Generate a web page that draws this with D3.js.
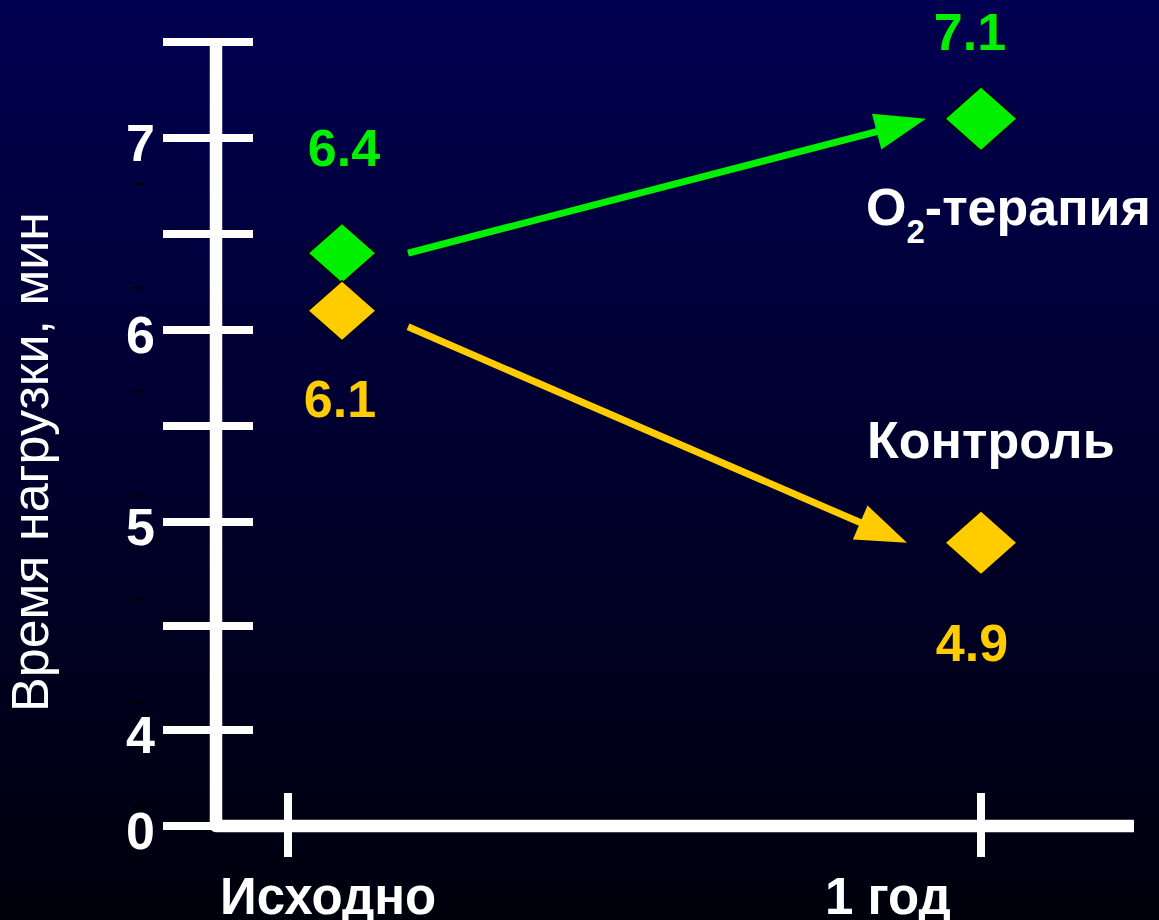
<!DOCTYPE html>
<html>
<head>
<meta charset="utf-8">
<script src="https://cdn.jsdelivr.net/npm/d3@7"></script>
<style>
  html, body { margin: 0; padding: 0; background: #000010; }
  svg { display: block; }
  text { font-family: "Liberation Sans", Arial, sans-serif; }
</style>
</head>
<body>
<script>
// ---- data ----
const periods = ["Исходно", "1 год"];
const seriesNames = ["O2-терапия", "Контроль"];
const o2Values = [6.4, 7.1];
const controlValues = [6.1, 4.9];
const yTickValues = [0, 4, 4.5, 5, 5.5, 6, 6.5, 7, 7.5];
const yTickLabels = ["0", "4", "", "5", "", "6", "", "7", ""];
const yTitle = "Время нагрузки, мин";

// ---- layout ----
const W = 1159, H = 920;
const colors = { o2: "#00f000", control: "#ffcc00", axis: "#ffffff" };

const svg = d3.select("body").append("svg")
  .attr("width", W).attr("height", H);

const defs = svg.append("defs");
const grad = defs.append("linearGradient")
  .attr("id", "bg").attr("x1", 0).attr("y1", 0).attr("x2", 0).attr("y2", 1);
grad.append("stop").attr("offset", "0%").attr("stop-color", "#000050");
grad.append("stop").attr("offset", "100%").attr("stop-color", "#00000c");
svg.append("rect").attr("width", W).attr("height", H).attr("fill", "url(#bg)");

// broken value axis: 0 sits just below the 4..7.5 segment
const y = d3.scaleLinear()
  .domain([0, 4, 5, 7.5])
  .range([826, 730, 522, 42]);
const x = d3.scalePoint().domain(periods).range([288, 981]);

const axisX = 216;
const markerShift = { "Исходно": 54, "1 год": 0 };

// faint guide dashes left of the value labels
const guide = d3.scaleLinear().domain([0, 6]).range([807, 184]);
svg.append("g").selectAll("line")
  .data(d3.range(0, 7))
  .join("line")
  .attr("x1", 132).attr("x2", 143)
  .attr("y1", d => guide(d)).attr("y2", d => guide(d))
  .attr("stroke", "#000000").attr("stroke-width", 2);

// axis frame
svg.append("path")
  .attr("d", `M${axisX},${y(7.5)} V${y(0)} H1134`)
  .attr("fill", "none")
  .attr("stroke", colors.axis)
  .attr("stroke-width", 12.5)
  .attr("stroke-linejoin", "round");

// y ticks crossing the axis
const yAxisG = svg.append("g");
yAxisG.selectAll("line")
  .data(yTickValues)
  .join("line")
  .attr("x1", 163).attr("x2", 253)
  .attr("y1", d => y(d)).attr("y2", d => y(d))
  .attr("stroke", colors.axis).attr("stroke-width", 8);
yAxisG.selectAll("text")
  .data(yTickValues.map((v, i) => ({ v, label: yTickLabels[i] })).filter(d => d.label))
  .join("text")
  .attr("x", 155)
  .attr("y", d => y(d.v) + 23)
  .attr("text-anchor", "end")
  .attr("fill", colors.axis)
  .attr("font-size", 52)
  .attr("font-weight", "bold")
  .text(d => d.label);

// x ticks
const xAxisG = svg.append("g");
xAxisG.selectAll("line")
  .data(periods)
  .join("line")
  .attr("x1", d => x(d)).attr("x2", d => x(d))
  .attr("y1", 793).attr("y2", 857)
  .attr("stroke", colors.axis).attr("stroke-width", 8);
const xLabelStart = { "Исходно": -68, "1 год": -156 };
xAxisG.selectAll("text")
  .data(periods)
  .join("text")
  .attr("x", d => x(d) + xLabelStart[d])
  .attr("y", 914)
  .attr("fill", colors.axis)
  .attr("font-size", 51)
  .attr("font-weight", "bold")
  .text(d => d);

// y title
svg.append("text")
  .attr("transform", `translate(48, ${462}) rotate(-90)`)
  .attr("text-anchor", "middle")
  .attr("fill", colors.axis)
  .attr("font-size", 52)
  .text(yTitle);

// series
const series = [
  { key: "o2", values: o2Values, color: colors.o2,
    startDy: 0, endGap: 20, labelDy: [-87, -69], labelDx: [2, -11] },
  { key: "control", values: controlValues, color: colors.control,
    startDy: 16, endGap: 39, labelDy: [106, 118], labelDx: [-2, -9] }
];

const diamond = (cx, cy, hw, hh) =>
  `M${cx},${cy - hh} L${cx + hw},${cy} L${cx},${cy + hh} L${cx - hw},${cy} Z`;

const headLen = 51, headHalf = 18.5;

series.forEach(s => {
  const pts = periods.map((p, i) => ({
    p, v: s.values[i], cx: x(p) + markerShift[p], cy: y(s.values[i])
  }));
  const g = svg.append("g");

  // arrow from the baseline marker toward the one-year marker
  const x0 = pts[0].cx + 66, y0 = pts[0].cy + s.startDy;
  const hw1 = 35;
  const tx = pts[1].cx - hw1 - s.endGap, ty = pts[1].cy;
  const ang = Math.atan2(ty - y0, tx - x0);
  const bx = tx - headLen * Math.cos(ang), by = ty - headLen * Math.sin(ang);
  const px = -Math.sin(ang) * headHalf, py = Math.cos(ang) * headHalf;
  g.append("line")
    .attr("x1", x0).attr("y1", y0)
    .attr("x2", bx + 2 * Math.cos(ang)).attr("y2", by + 2 * Math.sin(ang))
    .attr("stroke", s.color).attr("stroke-width", 7);
  g.append("path")
    .attr("d", `M${tx},${ty} L${bx + px},${by + py} L${bx - px},${by - py} Z`)
    .attr("fill", s.color);

  // diamond markers
  g.selectAll("path.mk")
    .data(pts)
    .join("path")
    .attr("class", "mk")
    .attr("d", (d, i) => i === 0 ? diamond(d.cx, d.cy, 34, 30) : diamond(d.cx, d.cy, 36, 32))
    .attr("fill", s.color)
    .attr("stroke", "#000000")
    .attr("stroke-width", 1.5);

  // value labels
  g.selectAll("text")
    .data(pts)
    .join("text")
    .attr("x", (d, i) => d.cx + s.labelDx[i])
    .attr("y", (d, i) => d.cy + s.labelDy[i])
    .attr("text-anchor", "middle")
    .attr("fill", s.color)
    .attr("font-size", 52)
    .attr("font-weight", "bold")
    .text(d => d.v.toFixed(1));
});

// series names
const o2Name = svg.append("text")
  .attr("x", 866).attr("y", 225)
  .attr("fill", colors.axis)
  .attr("font-size", 52)
  .attr("font-weight", "bold");
o2Name.append("tspan").text(seriesNames[0].slice(0, 1));
o2Name.append("tspan").attr("dy", 18).attr("font-size", 33).text(seriesNames[0].slice(1, 2));
o2Name.append("tspan").attr("dy", -18).text(seriesNames[0].slice(2));

svg.append("text")
  .attr("x", 867).attr("y", 458)
  .attr("fill", colors.axis)
  .attr("font-size", 52)
  .attr("font-weight", "bold")
  .text(seriesNames[1]);
</script>
</body>
</html>
